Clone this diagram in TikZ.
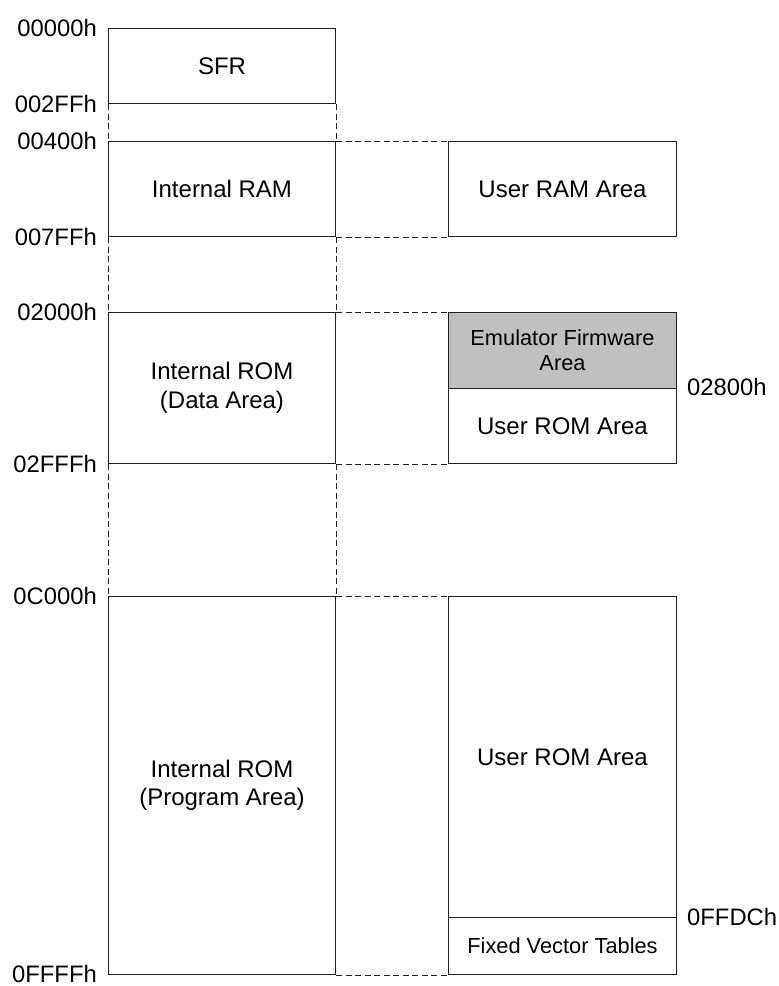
\documentclass[tikz,border=0pt]{standalone}
\usepackage{fontspec}
\setmainfont{Liberation Sans}
\usepackage{xcolor}
\definecolor{FwGray}{HTML}{C0C0C0}
\definecolor{LineGray}{HTML}{202020}

\begin{document}
\begin{tikzpicture}[x=1pt, y=-1pt]
  \useasboundingbox (0,0) rectangle (779,986);

  \tikzstyle{area}=[draw=LineGray, line width=1pt, rectangle, anchor=north west,
                    inner sep=0pt, align=center,
                    font=\fontsize{24pt}{28.5pt}\selectfont]
  \tikzstyle{small area}=[area, font=\fontsize{21.8pt}{25pt}\selectfont]
  \tikzstyle{addr}=[inner sep=0pt, font=\fontsize{23.8pt}{28pt}\selectfont]
  \tikzstyle{gap}=[draw=LineGray, line width=0.8pt, dash pattern=on 6pt off 3.5pt]

  % Internal memory map
  \node[area, minimum width=227pt, minimum height=75pt]  (sfr)  at (108,28)  {SFR};
  \node[area, minimum width=227pt, minimum height=95pt]  (iram) at (108,141) {Internal RAM};
  \node[area, minimum width=227pt, minimum height=151pt] (romd) at (108,312) {Internal ROM\\(Data Area)};
  \node[area, minimum width=227pt, minimum height=378pt] (romp) at (108,596) {Internal ROM\\(Program Area)};

  % User areas
  \node[area, minimum width=228pt, minimum height=95pt]  (uram)  at (448,141) {User RAM Area};
  \node[small area, fill=FwGray, minimum width=228pt, minimum height=76pt] (emu) at (448,312) {Emulator Firmware\\Area};
  \node[area, minimum width=228pt, minimum height=75pt]  (uromd) at (448,388) {User ROM Area};
  \node[area, minimum width=228pt, minimum height=321pt] (uromp) at (448,596) {User ROM Area};
  \node[small area, minimum width=228pt, minimum height=57pt] (fvt) at (448,917) {Fixed Vector Tables};

  % Addresses
  \node[addr, anchor=east] (a0)    at ([xshift=-11pt]sfr.north west)  {00000h};
  \node[addr, anchor=east] (a2ff)  at ([xshift=-11pt]sfr.south west)  {002FFh};
  \node[addr, anchor=east] (a400)  at ([xshift=-11pt]iram.north west) {00400h};
  \node[addr, anchor=east] (a7ff)  at ([xshift=-11pt]iram.south west) {007FFh};
  \node[addr, anchor=east] (a2000) at ([xshift=-11pt]romd.north west) {02000h};
  \node[addr, anchor=east] (a2fff) at ([xshift=-11pt]romd.south west) {02FFFh};
  \node[addr, anchor=east] (ac000) at ([xshift=-11pt]romp.north west) {0C000h};
  \node[addr, anchor=east] (affff) at ([xshift=-11pt, yshift=1.5pt]romp.south west) {0FFFFh};
  \node[addr, anchor=west] (a2800) at ([xshift=10pt, yshift=1pt]uromd.north east) {02800h};
  \node[addr, anchor=west] (affdc) at ([xshift=10pt]fvt.north east)   {0FFDCh};

  % Dashed lines between the internal blocks
  \foreach \upper/\lower in {sfr/iram, iram/romd, romd/romp}
      \draw[gap] (\upper.south west) -- (\lower.north west)
                 (\upper.south east) -- (\lower.north east);

  % Dashed lines across to the user areas
  \draw[gap] (iram.north east) -- (uram.north west);
  \draw[gap] (iram.south east) -- (uram.south west);
  \draw[gap] (romd.north east) -- (emu.north west);
  \draw[gap] (romd.south east) -- (uromd.south west);
  \draw[gap] (romp.north east) -- (uromp.north west);
  \draw[gap] (romp.south east) -- (fvt.south west);

\end{tikzpicture}
\end{document}
